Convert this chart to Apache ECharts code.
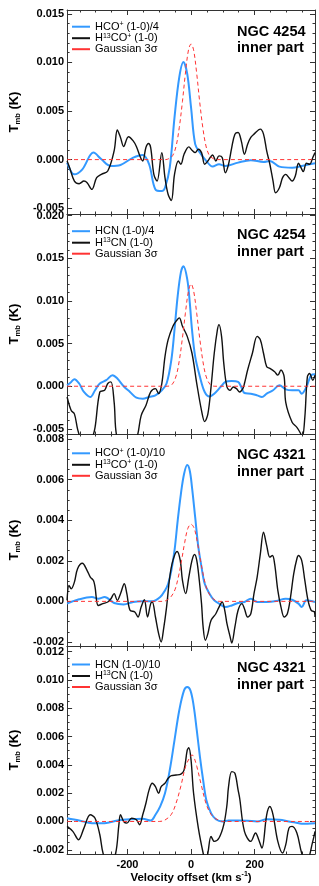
<!DOCTYPE html>
<html><head><meta charset="utf-8">
<script src="https://cdn.jsdelivr.net/npm/echarts@6/dist/echarts.min.js"></script>
<style>html,body{margin:0;padding:0;background:#fff}#c{width:319px;height:886px}</style>
</head><body><div id="c"></div><script>
// ---- data: [velocity km/s, Tmb K] ----
const n4254_hco = [[-390,-0.00031],[-367,-0.00152],[-342,-0.00100],[-307,0.00072],[-282,0.00003],[-252,-0.00066],[-222,-0.00055],[-182,0.00021],[-152,0.00048],[-132,-0.00048],[-112,-0.00307],[-92,-0.00324],[-82,-0.00290],[-67,-0.00083],[-52,0.00435],[-37,0.00849],[-24,0.01004],[-12,0.00883],[0,0.00538],[13,0.00159],[28,0.00072],[48,-0.00014],[68,-0.00072],[88,-0.00048],[108,-0.00066],[148,-0.00031],[188,-0.00007],[228,-0.00024],[248,-0.00014],[278,-0.00072],[318,-0.00083],[348,-0.00066],[390,-0.00038]];
const n4254_h13co = [[-390,-0.00014],[-382,-0.00083],[-367,-0.00221],[-352,-0.00248],[-337,-0.00221],[-327,-0.00238],[-312,-0.00307],[-297,-0.00186],[-282,-0.00152],[-262,-0.00117],[-242,0.00090],[-232,0.00304],[-222,0.00228],[-212,0.00135],[-197,0.00235],[-182,0.00193],[-172,0.00135],[-159,0.00021],[-152,-0.00014],[-142,0.00124],[-134,0.00166],[-127,0.00124],[-117,-0.00152],[-107,-0.00221],[-92,0.00072],[-82,-0.00186],[-72,-0.00359],[-62,-0.00421],[-52,-0.00152],[-40,-0.00014],[-32,-0.00048],[-22,0.00055],[-7,0.00131],[3,0.00097],[13,0.00072],[23,0.00107],[33,0.00072],[43,-0.00048],[53,-0.00014],[68,0.00048],[78,-0.00014],[88,0.00038],[98,0.00021],[108,-0.00135],[118,-0.00048],[128,0.00124],[138,0.00262],[148,0.00279],[158,0.00193],[168,0.00055],[178,0.00159],[188,0.00228],[198,0.00262],[218,0.00314],[228,0.00262],[238,0.00090],[248,-0.00048],[258,-0.00221],[266,-0.00342],[278,-0.00290],[288,-0.00186],[298,-0.00152],[308,-0.00186],[318,-0.00221],[328,-0.00169],[338,-0.00038],[346,-0.00083],[353,-0.00124],[363,-0.00038],[373,-0.00048],[383,0.00021],[390,0.00072]];
const n4254_gauss1 = [[-390,0],[-80,0],[-70,0.0001],[-58,0.0004],[-47,0.0014],[-37,0.0033],[-27,0.0060],[-18,0.0088],[-8,0.0113],[0,0.0119],[8,0.0113],[18,0.0088],[27,0.0060],[37,0.0033],[47,0.0014],[58,0.0004],[70,0.0001],[80,0],[390,0]];

const n4254_hcn = [[-390,0.00012],[-377,0.00051],[-367,0.00083],[-352,0.00032],[-337,-0.00067],[-317,-0.00126],[-302,-0.00047],[-287,0.00032],[-267,0.00071],[-247,0.00130],[-232,0.00091],[-212,0],[-192,-0.00067],[-172,-0.00134],[-152,-0.00146],[-132,-0.00126],[-112,-0.00107],[-92,-0.00047],[-77,0.00032],[-62,0.00308],[-52,0.00664],[-42,0.01059],[-32,0.01336],[-24,0.01407],[-12,0.01257],[-4,0.00980],[3,0.00664],[13,0.00348],[28,0.00111],[43,-0.00067],[58,-0.00119],[73,-0.00087],[93,-0.00008],[108,0.00051],[128,0.00063],[148,0.00051],[158,-0.00008],[168,-0.00079],[188,-0.00087],[208,-0.00107],[223,-0.00126],[238,-0.00087],[258,-0.00047],[278,0.00012],[298,-0.00036],[318,-0.00047],[338,-0.00047],[348,-0.00087],[363,-0.00008],[378,0.00130],[390,0.00142]];
const n4254_h13cn = [[-390,-0.00126],[-377,-0.00285],[-367,-0.00324],[-357,-0.00502],[-347,-0.0062],[-330,-0.0075],[-312,-0.0062],[-302,-0.00482],[-287,-0.00067],[-272,-0.00047],[-262,0.00032],[-252,0.00051],[-242,-0.00186],[-232,-0.0062],[-202,-0.0078],[-172,-0.0062],[-157,-0.00344],[-142,-0.00225],[-127,-0.00067],[-112,-0.00028],[-102,-0.00087],[-92,0.00032],[-82,0.00348],[-72,0.00546],[-57,0.00704],[-47,0.00763],[-37,0.00802],[-27,0.00704],[-12,0.00585],[3,0.00387],[18,0.00032],[33,-0.00285],[43,-0.00415],[53,-0.00324],[63,-0.00008],[73,0.00387],[83,0.00664],[88,0.00723],[96,0.00585],[103,0.00269],[113,-0.00008],[123,-0.00047],[133,-0.00008],[143,-0.00028],[153,-0.00067],[163,-0.00028],[168,0.00032],[178,0.00190],[193,0.00387],[208,0.00585],[218,0.00546],[228,0.00387],[238,0.00229],[248,0.00210],[263,0.00170],[273,0.00130],[283,0.00190],[293,0.00111],[298,-0.0019],[318,-0.00423],[333,-0.00482],[343,-0.00542],[350,-0.0060],[358,-0.00364],[366,0.00111],[373,0.00150],[383,0.00071],[390,0.00130]];
const n4254_gauss2 = [[-390,0],[-75,0],[-60,0.0002],[-47,0.0012],[-37,0.0030],[-27,0.0057],[-18,0.0085],[-8,0.0112],[0,0.0120],[8,0.0112],[18,0.0085],[27,0.0057],[37,0.0030],[47,0.0012],[60,0.0002],[75,0],[390,0]];

const n4321_hco = [[-390,-0.00011],[-352,0.00010],[-312,0.00021],[-292,0.00013],[-272,0.00021],[-242,-0.00008],[-212,-0.00015],[-182,-0.00003],[-152,0],[-122,0],[-97,0.00021],[-82,0.00054],[-72,0.00087],[-62,0.00152],[-52,0.00251],[-42,0.00398],[-32,0.00529],[-22,0.00628],[-12,0.00672],[-4,0.00644],[3,0.00562],[13,0.00415],[23,0.00267],[33,0.00169],[43,0.00087],[58,0.00038],[73,0.00005],[88,-0.00011],[108,-0.00028],[128,-0.00020],[148,-0.00008],[168,-0.00003],[188,0.00013],[208,-0.00003],[238,-0.00003],[268,0.00002],[298,0.00013],[318,0.00008],[338,-0.00011],[348,-0.00028],[363,0.00005],[390,-0.00003]];
const n4321_h13co = [[-390,0.00005],[-384,0.00079],[-377,0.00062],[-367,0.00095],[-357,0.00161],[-342,0.00188],[-327,0.00152],[-317,0.00120],[-307,0.00103],[-302,0.00070],[-292,-0.00020],[-277,-0.00011],[-262,-0.00003],[-252,0.00013],[-242,0.00038],[-232,0.00005],[-222,0.00038],[-210,0.00087],[-202,0.00038],[-192,-0.00044],[-177,-0.00052],[-167,-0.00077],[-157,-0.00028],[-147,0.00008],[-137,-0.00077],[-127,-0.00011],[-122,-0.00003],[-112,-0.00077],[-102,-0.00159],[-94,-0.00200],[-87,-0.00143],[-77,-0.00028],[-67,0.00120],[-57,0.00202],[-44,0.00246],[-34,0.00202],[-27,0.00103],[-17,0.00038],[-7,0.00120],[3,0.00202],[11,0.00231],[18,0.00202],[26,0.00103],[33,-0.00011],[38,-0.00126],[45,-0.00192],[53,-0.00159],[63,-0.00093],[78,-0.00061],[88,-0.00028],[98,-0.00003],[106,-0.00044],[113,-0.00110],[123,-0.00175],[128,-0.00205],[138,-0.00126],[148,-0.00044],[160,-0.00011],[168,-0.00036],[178,-0.00077],[188,-0.00061],[198,0.00038],[208,0.00120],[218,0.00234],[228,0.00341],[238,0.00275],[248,0.00218],[256,0.00226],[263,0.00185],[273,0.00054],[283,-0.00028],[293,-0.00077],[303,-0.00061],[313,0.00021],[323,0.00136],[333,0.00210],[338,0.00226],[348,0.00202],[358,0.00103],[368,0.00005],[378,-0.00044],[388,-0.00052],[390,-0.00077]];
const n4321_gauss1 = [[-390,0],[-90,0],[-77,0.00005],[-62,0.00025],[-50,0.0006],[-40,0.0012],[-30,0.0020],[-20,0.0029],[-10,0.0036],[0,0.0038],[10,0.0036],[20,0.0029],[30,0.0020],[40,0.0012],[50,0.0006],[62,0.00025],[77,0.00005],[90,0],[390,0]];

const n4321_hcn = [[-390,0.00023],[-352,0.00007],[-312,-0.00012],[-272,-0.00012],[-232,0.00007],[-192,0.00016],[-152,0.00019],[-127,0.00007],[-112,0.00047],[-97,0.00106],[-82,0.00199],[-67,0.00363],[-52,0.00575],[-37,0.00786],[-22,0.00926],[-12,0.00950],[-2,0.00926],[8,0.00821],[18,0.00645],[28,0.00457],[38,0.00293],[48,0.00152],[63,0.00059],[78,0.00016],[98,0],[118,0.00007],[148,0.00007],[178,0.00005],[208,0],[238,0.00016],[278,0.00012],[308,0],[328,-0.00007],[348,-0.00016],[390,-0.00012]];
const n4321_h13cn = [[-390,-0.00035],[-372,-0.00070],[-354,-0.00129],[-337,-0.00047],[-317,0.00047],[-302,0.00023],[-287,-0.00094],[-277,-0.00223],[-257,-0.0034],[-237,-0.00223],[-227,-0.00023],[-222,0.00047],[-212,0],[-202,-0.00012],[-187,0.00023],[-172,0.00012],[-162,-0.00023],[-152,0.00047],[-142,0.00129],[-132,0.00223],[-122,0.00270],[-112,0.00246],[-102,0.00199],[-94,0.00246],[-82,0.00270],[-72,0.00305],[-62,0.00324],[-47,0.00328],[-32,0.00335],[-22,0.00363],[-12,0.00504],[-7,0.00521],[0,0.00434],[8,0.00199],[23,-0.00047],[38,-0.00223],[46,-0.0029],[53,-0.00223],[63,-0.00106],[73,-0.00141],[88,-0.00117],[103,-0.00023],[113,0.00117],[118,0.00246],[128,0.00352],[138,0.00340],[148,0.00223],[153,0.00164],[168,-0.00070],[188,-0.00141],[203,-0.00082],[213,-0.00129],[223,-0.00188],[238,0.00047],[248,0.00106],[258,0.00047],[273,-0.00141],[288,-0.00223],[298,-0.00164],[308,-0.00047],[318,-0.00035],[333,-0.00082],[348,-0.00223],[363,-0.0029],[383,-0.00141],[390,-0.0007]];
const n4321_gauss2 = [[-390,0],[-100,0],[-82,0.0001],[-62,0.0005],[-47,0.0013],[-32,0.0025],[-17,0.0039],[-2,0.0046],[3,0.0047],[8,0.0046],[18,0.0039],[33,0.0025],[48,0.0012],[63,0.0005],[78,0.0002],[100,0],[390,0]];

const xRange = [-390, 390];
const xStep = 200;
const yMins = [-0.0056, -0.0056, -0.0022, -0.0023];
const yMaxs = [0.0154, 0.0202, 0.00825, 0.0124];
const ySteps = [0.005, 0.005, 0.002, 0.002];
const yMinorSplits = [5, 5, 4, 4];
const galaxies = ['NGC 4254', 'NGC 4254', 'NGC 4321', 'NGC 4321'];
const seriesNames = [
  ['HCO+ (1-0)/4', 'H13CO+ (1-0)', 'Gaussian 3σ'],
  ['HCN (1-0)/4', 'H13CN (1-0)', 'Gaussian 3σ'],
  ['HCO+ (1-0)/10', 'H13CO+ (1-0)', 'Gaussian 3σ'],
  ['HCN (1-0)/10', 'H13CN (1-0)', 'Gaussian 3σ']
];
const seriesData = [
  [n4254_hco, n4254_h13co, n4254_gauss1],
  [n4254_hcn, n4254_h13cn, n4254_gauss2],
  [n4321_hco, n4321_h13co, n4321_gauss1],
  [n4321_hcn, n4321_h13cn, n4321_gauss2]
];

// ---- layout ----
const FONT = 'Liberation Sans, Arial, Helvetica, sans-serif';
const gridTops = [10, 214, 434, 646];
const gridHeights = [204, 220, 212, 208];
const legendTops = [20.7, 225.7, 447.3, 659];
const titleTops = [23.4, 226.7, 446.7, 660];
const AX = '#333';
const colors = ['#3399ff', '#111111', '#ff3333'];

const richLegend = {
  n: {fontSize: 11, lineHeight: 12, color: '#000', fontFamily: FONT},
  p: {fontSize: 7, lineHeight: 7, verticalAlign: 'top', color: '#000', fontFamily: FONT}
};
function legendFmt(name) {
  const m = {
    'HCO+ (1-0)/4': '{n|HCO}{p|+}{n| (1-0)/4}',
    'HCO+ (1-0)/10': '{n|HCO}{p|+}{n| (1-0)/10}',
    'H13CO+ (1-0)': '{n|H}{p|13}{n|CO}{p|+}{n| (1-0)}',
    'H13CN (1-0)': '{n|H}{p|13}{n|CN (1-0)}'
  };
  return m[name] || ('{n|' + name + '}');
}

const grids = [], xAxes = [], yAxes = [], series = [], legends = [], titles = [];
for (let i = 0; i < 4; i++) {
  grids.push({left: 54, right: 4, top: gridTops[i], height: gridHeights[i]});
  const lineS = {color: AX, width: 1};
  const xBase = {
    gridIndex: i, type: 'value', min: xRange[0], max: xRange[1],
    minInterval: xStep, maxInterval: xStep,
    axisLine: {show: true, onZero: false, lineStyle: lineS},
    axisTick: {show: true, inside: true, length: 5, lineStyle: lineS},
    minorTick: {show: true, splitNumber: 4, length: 2.5, lineStyle: lineS},
    splitLine: {show: false}, minorSplitLine: {show: false}
  };
  xAxes.push(Object.assign({}, xBase, {
    position: 'bottom',
    axisLabel: {
      show: i === 3, margin: 5, fontSize: 11, fontWeight: 'bold', color: '#000', fontFamily: FONT,
      formatter: v => (Math.abs(v / xStep - Math.round(v / xStep)) < 1e-6 ? String(Math.round(v)) : '')
    },
    name: i === 3 ? '{b|Velocity offset (km s}{s|-1}{b|)}' : '',
    nameLocation: 'middle', nameGap: 17,
    nameTextStyle: {rich: {
      b: {fontSize: 11.5, fontWeight: 'bold', color: '#000', lineHeight: 13, fontFamily: FONT},
      s: {fontSize: 7, fontWeight: 'bold', color: '#000', lineHeight: 7, verticalAlign: 'top', fontFamily: FONT}
    }}
  }));
  xAxes.push(Object.assign({}, xBase, {position: 'top', axisLabel: {show: false}}));
  const st = ySteps[i];
  const yBase = {
    gridIndex: i, type: 'value', min: yMins[i], max: yMaxs[i],
    minInterval: st, maxInterval: st,
    axisLine: {show: true, onZero: false, lineStyle: lineS},
    axisTick: {show: true, inside: true, length: 5, lineStyle: lineS},
    minorTick: {show: true, splitNumber: yMinorSplits[i], length: 2.5, lineStyle: lineS},
    splitLine: {show: false}, minorSplitLine: {show: false}
  };
  yAxes.push(Object.assign({}, yBase, {
    position: 'left',
    axisLabel: {
      show: true, margin: 3, fontSize: 11, fontWeight: 'bold', color: '#000', fontFamily: FONT,
      formatter: v => {
        const r = Math.round(v / st);
        if (Math.abs(v / st - r) > 1e-6) return '';
        return r === 0 ? '0.000' : (r * st).toFixed(3);
      }
    },
    name: '{t|T}{s|mb}{t| (K)}', nameLocation: 'middle', nameGap: 44, nameRotate: 90,
    nameTextStyle: {rich: {
      t: {fontSize: 13, fontWeight: 'bold', color: '#000', lineHeight: 15, fontFamily: FONT},
      s: {fontSize: 7.5, fontWeight: 'bold', color: '#000', lineHeight: 8, verticalAlign: 'bottom', fontFamily: FONT}
    }}
  }));
  yAxes.push(Object.assign({}, yBase, {position: 'right', axisLabel: {show: false}}));

  for (let k = 0; k < 3; k++) {
    series.push({
      type: 'line', name: seriesNames[i][k], data: seriesData[i][k],
      xAxisIndex: 2 * i, yAxisIndex: 2 * i,
      showSymbol: false, symbol: 'none', smooth: 0.35, clip: true,
      color: colors[k],
      lineStyle: {color: colors[k], width: k === 0 ? 2 : (k === 1 ? 1.4 : 1), type: k === 2 ? [4, 3] : 'solid'},
      z: 2 + k
    });
  }
  legends.push({
    data: seriesNames[i], orient: 'vertical', left: 72, top: legendTops[i], padding: 0,
    itemWidth: 18, itemHeight: 2, itemGap: 0, icon: 'rect', selectedMode: false,
    formatter: legendFmt, textStyle: {rich: richLegend, fontSize: 11, color: '#000', fontFamily: FONT}
  });
  titles.push({
    text: galaxies[i] + '\ninner part', left: 237, top: titleTops[i], padding: 0,
    textStyle: {fontSize: 14.5, fontWeight: 'bold', lineHeight: 16.6, color: '#000', fontFamily: FONT}
  });
}

const chart = echarts.init(document.getElementById('c'), null, {renderer: 'canvas'});
chart.setOption({
  animation: false, backgroundColor: '#fff',
  title: titles, legend: legends, grid: grids, xAxis: xAxes, yAxis: yAxes, series: series
});
</script></body></html>
